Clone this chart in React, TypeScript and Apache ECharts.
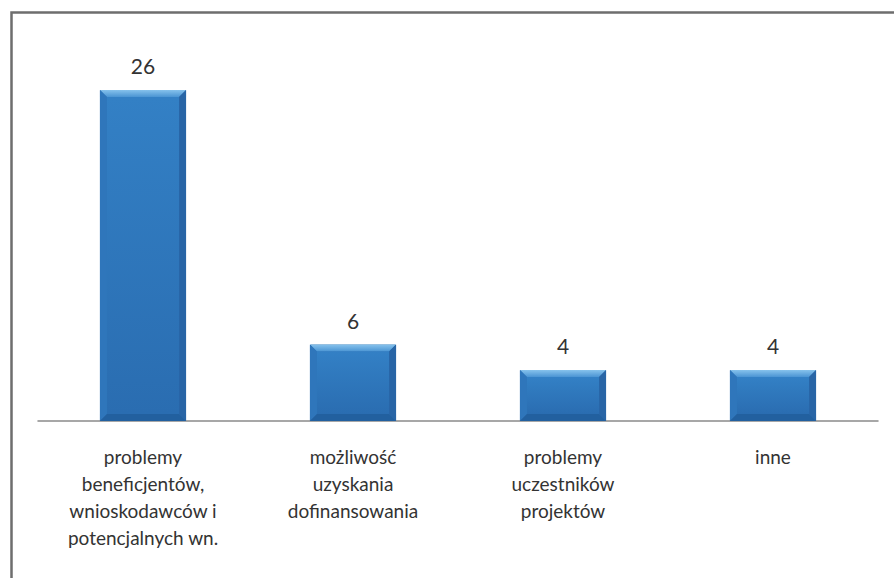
import React, { useEffect, useRef } from "react";
import * as echarts from "echarts";

const categories = [
  "problemy\nbeneficjentów,\nwnioskodawców i\npotencjalnych wn.",
  "możliwość\nuzyskania\ndofinansowania",
  "problemy\nuczestników\nprojektów",
  "inne",
];
const values = [26, 6, 4, 4];

export default function App() {
  const ref = useRef<HTMLDivElement>(null);
  useEffect(() => {
    const chart = echarts.init(ref.current!, null, { renderer: "svg" });
    const bevel = 7;
    chart.setOption({
      animation: false,
      backgroundColor: "#ffffff",
      grid: { left: 38, right: 16, top: 90, bottom: 157, containLabel: false },
      xAxis: {
        type: "category",
        data: categories,
        axisLine: { show: true, lineStyle: { color: "#8a8a8a", width: 1.5 } },
        axisTick: { show: false },
        axisLabel: {
          interval: 0,
          color: "#333",
          fontFamily: "Lato",
          fontSize: 19,
          lineHeight: 27,
          margin: 22,
        },
      },
      yAxis: {
        type: "value",
        min: 0,
        max: 26,
        show: false,
        splitLine: { show: false },
      },
      graphic: [
        {
          type: "rect",
          left: 9,
          top: 10,
          shape: { width: 900, height: 600 },
          style: { fill: "none", stroke: "#6e6e6e", lineWidth: 2.5 },
          z: 100,
        },
      ],
      series: [
        {
          type: "bar",
          data: values,
          barWidth: "41%",
          itemStyle: { color: "#2c70b5", borderColor: "#1d5894", borderWidth: 1 },
          label: {
            show: true,
            position: "top",
            distance: 14,
            color: "#333",
            fontFamily: "Lato",
            fontSize: 21,
          },
        },
        {
          type: "custom",
          data: values.map((v, i) => [i, v]),
          z: 5,
          silent: true,
          renderItem: (params: any, api: any) => {
            const idx = api.value(0);
            const val = api.value(1);
            const top = api.coord([idx, val]);
            const base = api.coord([idx, 0]);
            const w = api.size([1, 0])[0] * 0.41;
            const x0 = top[0] - w / 2;
            const x1 = top[0] + w / 2;
            const y0 = top[1];
            const y1 = base[1];
            const b = bevel;
            return {
              type: "group",
              children: [
                {
                  type: "polygon",
                  shape: { points: [[x0, y0], [x1, y0], [x1 - b, y0 + b], [x0 + b, y0 + b]] },
                  style: {
                    fill: new echarts.graphic.LinearGradient(0, 0, 0, 1, [
                      { offset: 0, color: "#86c2ec" },
                      { offset: 1, color: "#4a94d3" },
                    ]),
                  },
                },
                {
                  type: "polygon",
                  shape: { points: [[x0, y0], [x0 + b, y0 + b], [x0 + b, y1 - b], [x0, y1]] },
                  style: { fill: "#2f76bb" },
                },
                {
                  type: "polygon",
                  shape: { points: [[x1, y0], [x1 - b, y0 + b], [x1 - b, y1 - b], [x1, y1]] },
                  style: { fill: "#2865a6" },
                },
                {
                  type: "polygon",
                  shape: { points: [[x0, y1], [x0 + b, y1 - b], [x1 - b, y1 - b], [x1, y1]] },
                  style: { fill: "#22609f" },
                },
                {
                  type: "rect",
                  shape: { x: x0 + b, y: y0 + b, width: w - 2 * b, height: Math.max(0, y1 - y0 - 2 * b) },
                  style: {
                    fill: new echarts.graphic.LinearGradient(0, 0, 0, 1, [
                      { offset: 0, color: "#3380c5" },
                      { offset: 1, color: "#2a6db1" },
                    ]),
                  },
                },
              ],
            };
          },
        },
      ],
    });
    return () => chart.dispose();
  }, []);
  return (
    <div
      ref={ref}
      style={{ position: "fixed", left: 0, top: 0, width: 894, height: 578 }}
    />
  );
}
